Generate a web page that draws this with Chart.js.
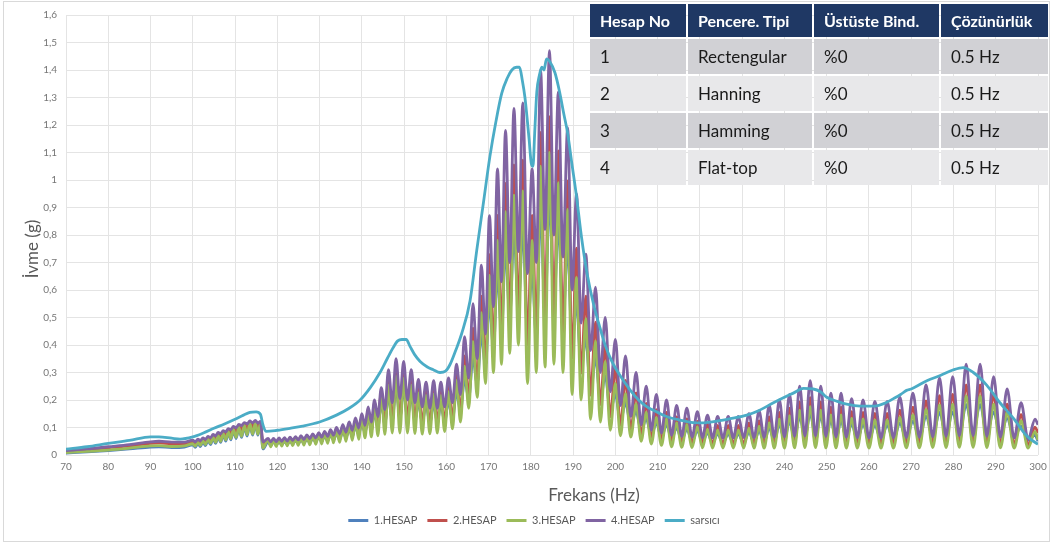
<!DOCTYPE html>
<html>
<head>
<meta charset="utf-8">
<script src="https://cdn.jsdelivr.net/npm/chart.js@4.4.1/dist/chart.umd.min.js"></script>
<style>
  html, body { margin: 0; padding: 0; background: #fff; }
  #wrap { position: relative; width: 1053px; height: 545px; overflow: hidden; }
  #chart { position: absolute; left: 0; top: 0; }
  #frame { position: absolute; left: 3px; top: 1px; width: 1045px; height: 539px;
           border: 1px solid #D9D9D9; pointer-events: none; }
  #tbl { position: absolute; left: 590px; top: 4px; display: grid;
         grid-template-columns: 96px 124px 125px 107px;
         grid-template-rows: 33px 35px 35px 35px 35px; gap: 2px;
         font-family: Lato, "Open Sans", sans-serif; }
  #tbl div { display: flex; align-items: center; padding-left: 10px; box-sizing: border-box; }
  #tbl .hd { background: #1F3864; color: #fff; font-weight: bold; font-size: 16px; }
  #tbl .r0 { background: #D1D1D5; color: #1a1a1a; font-size: 17px; }
  #tbl .r1 { background: #E8E8EA; color: #1a1a1a; font-size: 17px; }
</style>
</head>
<body>
<div id="wrap">
  <canvas id="chart" width="1053" height="545"></canvas>
  <div id="frame"></div>
  <div id="tbl"></div>
</div>
<script>
// frequency axis (Hz) shared by the four HESAP series
const hz = [
  70, 75, 80, 85, 90, 92, 95, 98,
  100, 100.6, 101.2, 101.8, 102.4, 103, 103.6, 104.2, 104.8, 105.4,
  106, 106.6, 107.2, 107.8, 108.4, 109, 109.6, 110.25, 110.9, 111.55,
  112.2, 112.85, 113.5, 114.15, 114.8, 115.4, 116, 116.6,
  117.8, 118.45, 119.1, 119.75, 120.4, 121.05, 121.7, 122.35, 123, 123.65,
  124.3, 124.95, 125.6, 126.3, 127, 127.7, 128.4, 129.1, 129.8, 130.5,
  131.2, 131.9, 132.6, 133.3, 134, 134.75, 135.5, 136.25, 137, 137.75,
  138.5, 139.25, 140, 140.75, 141.5, 142.25, 143, 143.8, 144.6, 145.45,
  146.3, 147.2, 148.1, 149, 149.9, 150.8, 151.7, 152.55, 153.4, 154.3,
  155.2, 156.1, 157, 157.85, 158.7, 159.6, 160.5, 161.45, 162.4, 163.35,
  164.3, 165.3, 166.3, 167.3, 168.3, 169.25, 170.2, 171.15, 172.1, 173.05,
  174, 175, 176, 177.05, 178.1, 179.2, 180.3, 181.3, 182.3, 183.35,
  184.4, 185.45, 186.5, 187.6, 188.7, 189.75, 190.8, 191.9, 193, 194.15,
  195.3, 196.45, 197.6, 198.8, 200, 201.2, 202.4, 203.65, 204.9, 206.1,
  207.3, 208.5, 209.7, 210.9, 212.1, 213.3, 214.5, 215.7, 216.9, 218.15,
  219.4, 220.6, 221.8, 223, 224.2, 225.45, 226.7, 227.9, 229.1, 230.35,
  231.6, 232.8, 234, 235.2, 236.4, 237.6, 238.8, 240, 241.2, 242.4,
  243.6, 244.85, 246.1, 247.35, 248.6, 249.8, 251, 252.2, 253.4, 254.65,
  255.9, 257.25, 258.6, 260, 261.4, 262.85, 264.3, 265.8, 267.3, 268.85,
  270.4, 271.95, 273.5, 275.1, 276.7, 278.25, 279.8, 281.4, 283, 284.65,
  286.3, 287.9, 289.5, 291.1, 292.7, 294.35, 296, 297.65, 299.3, 300
];

// 1.HESAP - Rectengular
const hesap1 = [
  .007, .011, .016, .022, .029, .030, .027, .029,
  .037, .028, .042, .031, .047, .034, .053, .038, .060, .042,
  .066, .046, .074, .051, .081, .055, .089, .060, .096, .064,
  .104, .069, .111, .072, .113, .072, .111, .022,
  .047, .036, .047, .037, .048, .038, .049, .039, .051, .040,
  .053, .041, .055, .043, .058, .044, .061, .047, .065, .049,
  .069, .051, .074, .055, .078, .057, .086, .063, .094, .067,
  .105, .074, .117, .081, .137, .091, .156, .100, .191, .116,
  .216, .128, .244, .137, .237, .135, .216, .126, .192, .117,
  .184, .114, .188, .118, .184, .120, .196, .130, .230, .159,
  .275, .207, .351, .259, .440, .323, .555, .389, .663, .447,
  .752, .504, .803, .541, .816, .455, .663, .427, .893, .521,
  .935, .542, .842, .490, .759, .409, .549, .322, .422, .232,
  .353, .202, .289, .160, .221, .123, .190, .109, .158, .088,
  .132, .072, .116, .063, .111, .058, .099, .053, .094, .050,
  .088, .048, .080, .044, .077, .043, .077, .043, .077, .043,
  .083, .045, .088, .047, .099, .051, .111, .055, .122, .060,
  .139, .066, .150, .070, .139, .066, .124, .060, .124, .059,
  .113, .056, .111, .055, .108, .054, .108, .054, .116, .058,
  .124, .060, .141, .067, .155, .072, .157, .073, .183, .082,
  .183, .082, .157, .072, .133, .063, .105, .053, .072, .050
];

// 2.HESAP - Hanning
const hesap2 = [
  .014, .019, .026, .033, .042, .044, .041, .041,
  .049, .039, .053, .043, .058, .047, .064, .053, .071, .059,
  .077, .065, .084, .071, .092, .078, .099, .085, .106, .091,
  .113, .097, .119, .101, .121, .100, .118, .040,
  .057, .036, .057, .037, .059, .038, .060, .039, .062, .041,
  .064, .042, .067, .043, .070, .045, .074, .047, .078, .049,
  .083, .051, .089, .054, .095, .057, .104, .062, .114, .066,
  .128, .071, .142, .078, .166, .085, .190, .095, .232, .107,
  .274, .119, .309, .124, .300, .122, .274, .117, .243, .111,
  .234, .110, .238, .112, .234, .117, .248, .128, .292, .155,
  .360, .209, .461, .259, .578, .323, .729, .384, .871, .435,
  .988, .486, 1.055, .519, 1.072, .400, .871, .440, 1.173, .495,
  1.230, .495, 1.106, .447, .997, .353, .752, .298, .578, .218,
  .483, .183, .396, .139, .316, .109, .271, .091, .226, .071,
  .188, .058, .165, .051, .155, .045, .139, .042, .131, .040,
  .122, .039, .112, .038, .108, .038, .108, .038, .108, .038,
  .116, .038, .124, .039, .139, .039, .155, .039, .170, .041,
  .193, .042, .209, .042, .193, .041, .174, .040, .174, .039,
  .158, .038, .155, .038, .151, .038, .151, .038, .163, .039,
  .174, .040, .197, .041, .216, .041, .220, .043, .255, .043,
  .255, .041, .220, .040, .185, .038, .147, .037, .101, .080
];

// 3.HESAP - Hamming
const hesap3 = [
  .009, .013, .018, .025, .033, .034, .031, .033,
  .041, .032, .046, .035, .051, .038, .057, .042, .064, .046,
  .070, .050, .078, .055, .085, .059, .093, .064, .100, .068,
  .108, .073, .115, .076, .117, .076, .115, .025,
  .055, .030, .055, .031, .057, .032, .058, .033, .060, .034,
  .062, .035, .065, .036, .068, .037, .072, .039, .076, .040,
  .081, .042, .087, .044, .092, .046, .101, .050, .110, .053,
  .124, .057, .138, .062, .161, .066, .184, .070, .225, .075,
  .254, .080, .287, .080, .279, .080, .254, .078, .226, .076,
  .217, .077, .221, .080, .217, .085, .230, .095, .271, .120,
  .323, .170, .413, .210, .518, .260, .653, .300, .780, .330,
  .885, .370, .945, .400, .960, .260, .780, .300, 1.05, .320,
  1.10, .330, .990, .300, .893, .220, .646, .200, .496, .130,
  .415, .120, .340, .090, .260, .070, .223, .065, .186, .050,
  .155, .040, .136, .035, .130, .030, .117, .028, .110, .027,
  .103, .026, .094, .025, .091, .025, .091, .025, .091, .025,
  .098, .025, .104, .025, .117, .025, .130, .025, .143, .026,
  .163, .027, .176, .027, .163, .026, .146, .026, .146, .025,
  .133, .025, .130, .025, .127, .025, .127, .025, .137, .026,
  .146, .026, .166, .027, .182, .027, .185, .028, .215, .028,
  .215, .027, .185, .026, .156, .025, .124, .025, .085, .055
];

// 4.HESAP - Flat-top
const hesap4 = [
  .016, .022, .030, .038, .048, .050, .047, .047,
  .054, .048, .058, .052, .062, .057, .068, .063, .075, .070,
  .082, .077, .089, .084, .096, .092, .104, .099, .111, .107,
  .118, .113, .124, .117, .126, .116, .122, .048,
  .060, .048, .060, .049, .062, .050, .063, .051, .065, .053,
  .067, .055, .070, .057, .073, .060, .077, .062, .081, .065,
  .086, .068, .092, .072, .100, .077, .110, .083, .120, .090,
  .135, .098, .150, .108, .175, .120, .200, .140, .245, .165,
  .310, .190, .350, .205, .340, .200, .310, .190, .275, .175,
  .265, .170, .270, .170, .265, .175, .280, .190, .330, .220,
  .430, .280, .550, .350, .690, .440, .870, .540, 1.04, .630,
  1.18, .700, 1.26, .740, 1.28, .660, 1.04, .700, 1.40, .820,
  1.47, .800, 1.32, .720, 1.19, .600, .950, .480, .730, .380,
  .610, .300, .500, .230, .420, .180, .360, .140, .300, .110,
  .250, .090, .220, .080, .200, .072, .180, .068, .170, .065,
  .158, .063, .145, .062, .140, .062, .140, .062, .140, .063,
  .150, .063, .160, .064, .180, .065, .200, .066, .220, .068,
  .250, .070, .270, .070, .250, .068, .225, .066, .225, .065,
  .205, .063, .200, .062, .195, .062, .195, .063, .210, .064,
  .225, .065, .255, .066, .280, .068, .285, .070, .330, .070,
  .330, .068, .285, .065, .240, .062, .190, .058, .130, .110
];

// shaker reference curve
const sarsiciHz = [
  70, 75, 80, 85, 90, 92, 95, 97, 100, 102.5,
  105, 107.5, 110, 112, 113.5, 115, 116, 116.6, 117.3, 120,
  123, 126, 130, 134, 137, 139.6, 142, 144.3, 146, 147.4,
  148.5, 149.5, 150.5, 151.4, 152.5, 153.8, 155.5, 156.9, 158.5, 159.8,
  160.9, 162.2, 163.6, 165.6, 167.2, 168.8, 170.3, 171.7, 173.1, 174.4,
  175.5, 176.6, 177.3, 178, 178.6, 179.2, 179.6, 180.1, 180.5, 180.9,
  181.4, 182, 182.6, 183.1, 183.7, 184.5, 185.7, 186.8, 187.8, 188.7,
  189.7, 190.8, 192, 193.3, 194.8, 196.4, 197.8, 199.5, 201.5, 203.5,
  205.5, 207.4, 210, 212.1, 215, 218.4, 221, 224, 227.5, 231.1,
  234, 237.4, 240, 242.1, 244.5, 246.8, 248.5, 250, 252.5, 254.7,
  257.9, 261.3, 264, 265.8, 267.5, 268.9, 270, 273.7, 277, 280,
  282.3, 284.7, 287.8, 291, 294.2, 297.3, 299.7, 300
];
const sarsici = [
  .021, .030, .042, .053, .066, .066, .061, .058, .066, .080,
  .097, .113, .130, .145, .155, .157, .148, .110, .086, .090,
  .097, .105, .120, .145, .170, .200, .245, .300, .350, .390,
  .415, .420, .420, .395, .365, .340, .320, .310, .300, .305,
  .330, .380, .440, .560, .745, .920, 1.085, 1.210, 1.315, 1.370,
  1.400, 1.410, 1.410, 1.360, 1.300, 1.210, 1.145, 1.060, 1.050, 1.170,
  1.320, 1.380, 1.410, 1.400, 1.440, 1.430, 1.390, 1.320, 1.240, 1.170,
  1.060, .940, .790, .660, .550, .460, .390, .330, .280, .236,
  .200, .176, .155, .140, .128, .118, .117, .123, .133, .145,
  .162, .190, .210, .225, .242, .240, .230, .210, .195, .185,
  .178, .178, .190, .205, .220, .235, .240, .270, .290, .310,
  .318, .300, .255, .190, .133, .070, .042, .040
];

const seriesNames = ['1.HESAP', '2.HESAP', '3.HESAP', '4.HESAP', 'sarsıcı'];
const seriesColors = ['#4F81BD', '#C0504D', '#9BBB59', '#8064A2', '#4BACC6'];
const xTitle = 'Frekans (Hz)';
const yTitle = 'İvme (g)';

// table overlay
const tableHeader = ['Hesap No', 'Pencere. Tipi', 'Üstüste Bind.', 'Çözünürlük'];
const hesapNo = ['1', '2', '3', '4'];
const pencereTipi = ['Rectengular', 'Hanning', 'Hamming', 'Flat-top'];
const ustuste = ['%0', '%0', '%0', '%0'];
const cozunurluk = ['0.5 Hz', '0.5 Hz', '0.5 Hz', '0.5 Hz'];

const FONT = 'Lato, "Open Sans", sans-serif';

const tbl = document.getElementById('tbl');
tableHeader.forEach(t => {
  const d = document.createElement('div');
  d.className = 'hd';
  d.textContent = t;
  tbl.appendChild(d);
});
hesapNo.forEach((no, i) => {
  [no, pencereTipi[i], ustuste[i], cozunurluk[i]].forEach(t => {
    const d = document.createElement('div');
    d.className = i % 2 ? 'r1' : 'r0';
    d.textContent = t;
    tbl.appendChild(d);
  });
});

function pts(xs, ys) {
  return xs.map((x, i) => ({ x: x, y: ys[i] }));
}

const ySeries = [hesap1, hesap2, hesap3, hesap4];
const datasets = ySeries.map((ys, i) => ({
  label: seriesNames[i],
  data: pts(hz, ys),
  borderColor: seriesColors[i],
  backgroundColor: seriesColors[i],
  order: 5 - i
}));
datasets.push({
  label: seriesNames[4],
  data: pts(sarsiciHz, sarsici),
  borderColor: seriesColors[4],
  backgroundColor: seriesColors[4],
  order: 0
});

// axis titles sit a bit off-centre in the original, so draw them by hand
const axisTitles = {
  id: 'axisTitles',
  afterDraw(chart) {
    const { ctx, chartArea: a } = chart;
    ctx.save();
    ctx.fillStyle = '#595959';
    ctx.font = '17px ' + FONT;
    ctx.textAlign = 'center';
    ctx.textBaseline = 'middle';
    ctx.fillText(xTitle, (a.left + a.right) / 2 + 42, a.bottom + 41);
    ctx.translate(33, (a.top + a.bottom) / 2 + 14);
    ctx.rotate(-Math.PI / 2);
    ctx.fillText(yTitle, 0, 0);
    ctx.restore();
  }
};

Chart.defaults.font.family = FONT;

new Chart(document.getElementById('chart'), {
  type: 'line',
  data: { datasets: datasets },
  options: {
    responsive: false,
    animation: false,
    layout: { padding: { left: 30, right: 15, top: 15, bottom: 9 } },
    elements: {
      point: { radius: 0 },
      line: { borderWidth: 2.8, cubicInterpolationMode: 'monotone' }
    },
    scales: {
      x: {
        type: 'linear',
        min: 70,
        max: 300,
        ticks: { stepSize: 10, padding: 6, color: '#767676', font: { size: 10 } },
        grid: { color: '#E4E4E4', drawTicks: false },
        border: { display: false },
        afterFit: (s) => { s.height = 50; }
      },
      y: {
        min: 0,
        max: 1.6,
        ticks: {
          stepSize: 0.1,
          padding: 9,
          color: '#767676',
          font: { size: 10 },
          callback: (v) => (Math.round(v * 10) / 10).toString().replace('.', ',')
        },
        grid: { color: '#E4E4E4', drawTicks: false },
        border: { display: false },
        afterFit: (s) => { s.width = 36; }
      }
    },
    plugins: {
      legend: {
        position: 'bottom',
        labels: {
          boxWidth: 20,
          boxHeight: 3,
          padding: 10,
          color: '#595959',
          font: { size: 11 },
          sort: (a, b) => a.datasetIndex - b.datasetIndex,
          generateLabels: (chart) =>
            Chart.defaults.plugins.legend.labels.generateLabels(chart)
              .map(item => Object.assign(item, { lineWidth: 0 }))
        }
      },
      tooltip: { enabled: false }
    }
  },
  plugins: [axisTitles]
});
</script>
</body>
</html>
